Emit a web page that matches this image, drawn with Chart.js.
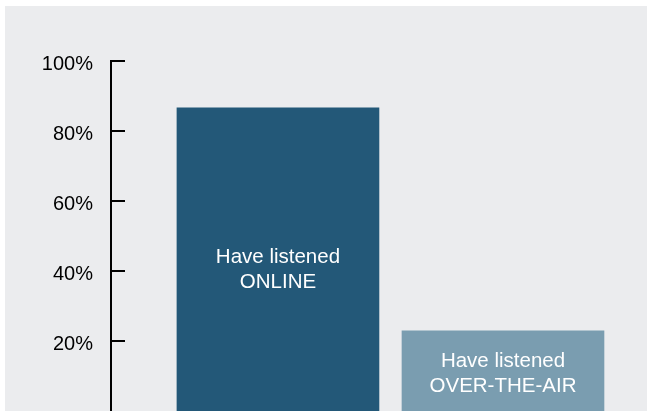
<!DOCTYPE html>
<html>
<head>
<meta charset="utf-8">
<script src="https://cdn.jsdelivr.net/npm/chart.js@4/dist/chart.umd.min.js"></script>
<style>
    html, body { margin: 0; padding: 0; background: #ffffff; }
    #box { position: absolute; left: 5px; top: 6px; width: 642px; height: 405px; background: #ebecee; }
</style>
</head>
<body>
<div id="box"><canvas id="chart" width="642" height="405"></canvas></div>
<script>
// listening share, percent
const categories = [['Have listened', 'ONLINE'], ['Have listened', 'OVER-THE-AIR']];
const values = [86.6, 22.9];
const labelAt = [40.3, 10.6]; // where the text sits, in % on the y scale
const barColors = ['#235878', '#7a9db0'];
const yTicks = [20, 40, 60, 80, 100];

const barLabels = {
    id: 'barLabels',
    afterDatasetsDraw(chart) {
        const ctx = chart.ctx;
        const meta = chart.getDatasetMeta(0);
        const y = chart.scales.y;
        ctx.save();
        ctx.fillStyle = '#ffffff';
        ctx.font = '20.5px "Liberation Sans", Arial, sans-serif';
        ctx.textAlign = 'center';
        ctx.textBaseline = 'middle';
        meta.data.forEach((bar, i) => {
            const lines = categories[i];
            const mid = y.getPixelForValue(labelAt[i]);
            lines.forEach((line, j) => {
                ctx.fillText(line, bar.x, mid + (j - (lines.length - 1) / 2) * 25);
            });
        });
        ctx.restore();
    }
};

new Chart(document.getElementById('chart'), {
    type: 'bar',
    data: {
        datasets: [{
            data: values.map((v, i) => ({ x: i + 1, y: v })),
            backgroundColor: barColors,
            barThickness: 202
        }]
    },
    options: {
        responsive: false,
        animation: false,
        layout: { padding: { top: 55, bottom: 0, left: 0, right: 0 } },
        plugins: { legend: { display: false }, tooltip: { enabled: false } },
        scales: {
            x: {
                type: 'linear',
                display: false,
                offset: false,
                min: 0.258,
                max: 2.64
            },
            y: {
                min: 0,
                max: 100,
                afterBuildTicks: (s) => { s.ticks = yTicks.map(v => ({ value: v })); },
                afterFit: (s) => { s.width = 106; s.paddingTop = 0; s.paddingBottom = 0; },
                border: { display: true, color: '#000000', width: 2 },
                grid: {
                    drawOnChartArea: false,
                    drawTicks: true,
                    tickLength: -14,
                    color: '#000000',
                    lineWidth: 2
                },
                ticks: {
                    padding: 32,
                    labelOffset: 3,
                    color: '#000000',
                    font: { family: '"Liberation Sans", Arial, sans-serif', size: 20 },
                    callback: (v) => v + '%'
                }
            }
        }
    },
    plugins: [barLabels]
});
</script>
</body>
</html>
